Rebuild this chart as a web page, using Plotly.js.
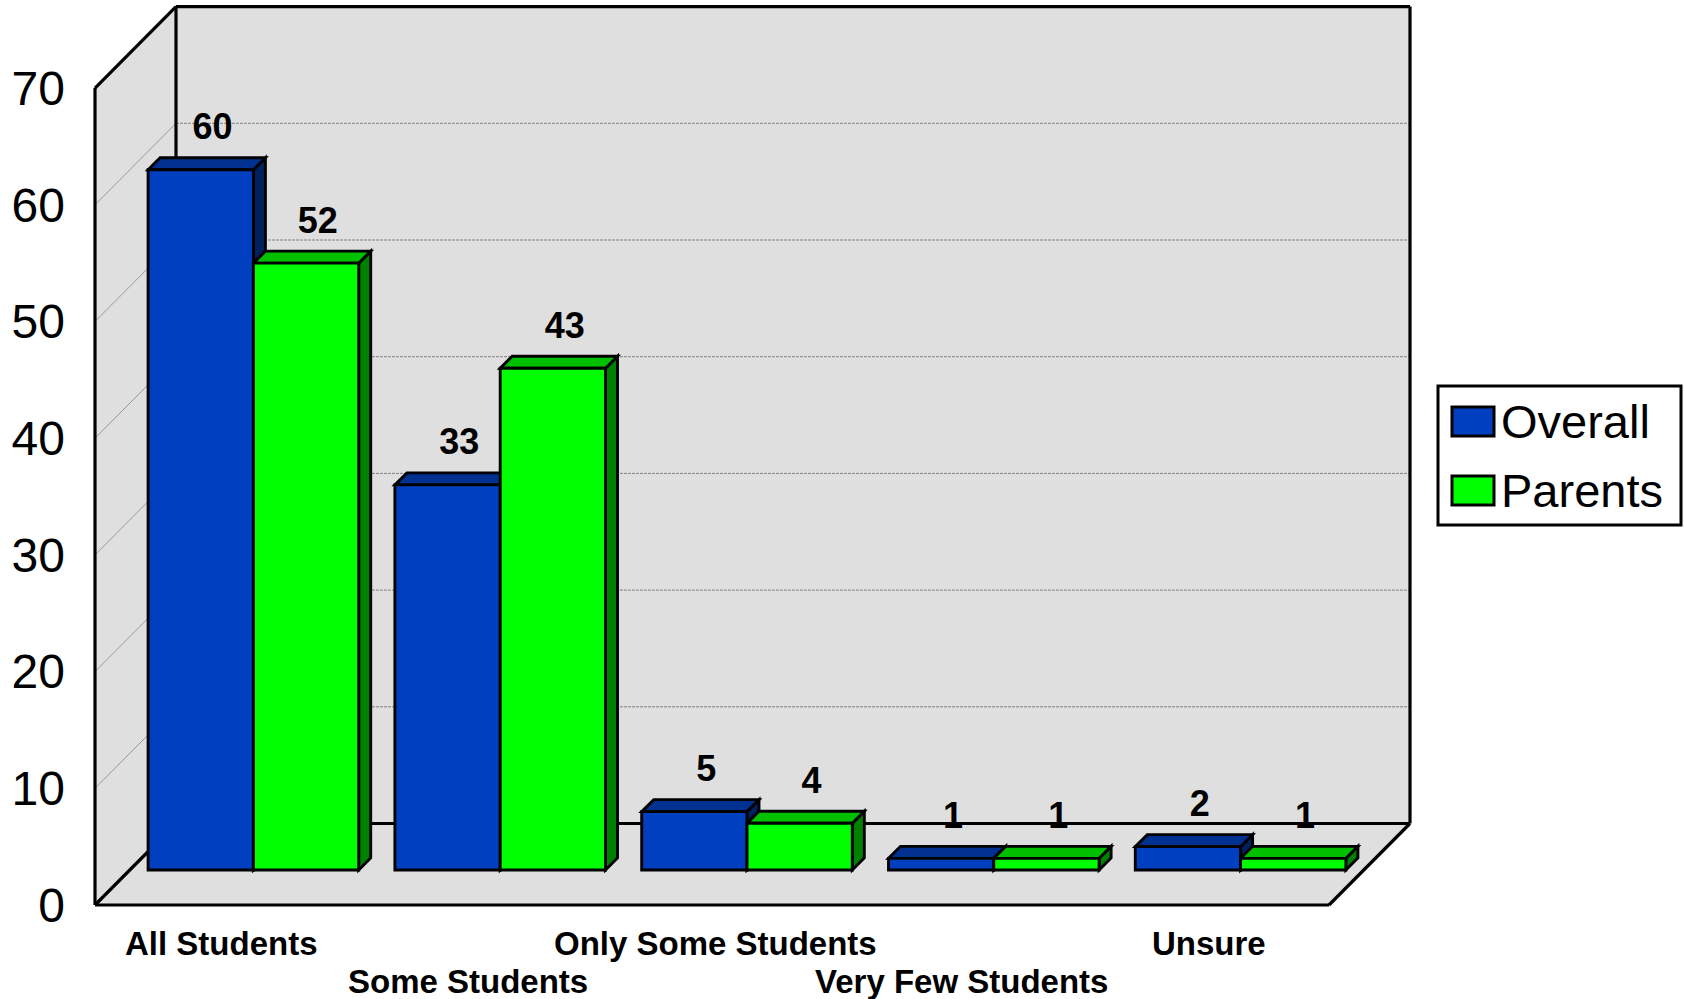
<!DOCTYPE html>
<html>
<head>
<meta charset="utf-8">
<script src="https://cdn.plot.ly/plotly-3.0.1.min.js"></script>
<style>html,body{margin:0;padding:0;background:#fff}</style>
</head>
<body>
<div id="chart" style="width:1684px;height:999px"></div>
<script>
// ---- data ----
const categories = ["All Students", "Some Students", "Only Some Students", "Very Few Students", "Unsure"];
const overallValues = [60, 33, 5, 1, 2];
const parentsValues = [52, 43, 4, 1, 1];
const seriesNames = ["Overall", "Parents"];
const yTicks = [0, 10, 20, 30, 40, 50, 60, 70];
const gridValues = [10, 20, 30, 40, 50, 60];

// ---- styling / projection constants ----
const FONT = '"Liberation Sans", Arial, sans-serif';
const W = 1684, H = 999;
const PX_X = 246.8, PX_Y = 11.67;      // pixels per category / per value unit
const OX = 95, OY = 905;               // pixel of the front-left floor corner
const mL = 85, mR = 263, mT = 0, mB = 84;
const xRange = [(mL - OX) / PX_X, (W - mR - OX) / PX_X];
const yRange = [(OY - (H - mB)) / PX_Y, (OY - mT) / PX_Y];
const fx = p => p / PX_X, fy = p => p / PX_Y;
const WALL_DX = fx(81), WALL_DY = fy(81.5), NCAT = categories.length;
const PLANE_DX = fx(35), PLANE_DY = fy(35);   // floor position of bar front faces
const BAR_W = fx(105.3), BAR_DX = fx(12), BAR_DY = fy(12);
const WALL = "#DFDFDF", INK = "#000000", LW = 2.9;
const colors = [
  {front: "#0040C0", top: "#003090", side: "#002060"},
  {front: "#00FF00", top: "#00C000", side: "#008000"}
];
const allSeries = [overallValues, parentsValues];

function poly(pts, fill, lw) {
  const path = "M" + pts.map(p => p[0] + "," + p[1]).join("L") + "Z";
  return {type: "path", xref: "x", yref: "y", layer: "below", path: path,
          fillcolor: fill, line: {color: INK, width: lw}};
}
function seg(x0, y0, x1, y1, color, width, dash) {
  return {type: "line", xref: "x", yref: "y", layer: "below", x0, y0, x1, y1,
          line: {color, width, dash: dash || "solid"}};
}
const barX = (s, i) => i + 0.5 + PLANE_DX + (s === 0 ? -BAR_W / 2 : BAR_W / 2);

const shapes = [];
// walls and floor
shapes.push(poly([[0,0],[WALL_DX,WALL_DY],[WALL_DX,70+WALL_DY],[0,70]], WALL, 0));
shapes.push(poly([[WALL_DX,WALL_DY],[NCAT+WALL_DX,WALL_DY],[NCAT+WALL_DX,70+WALL_DY],[WALL_DX,70+WALL_DY]], WALL, 0));
shapes.push(poly([[0,0],[NCAT,0],[NCAT+WALL_DX,WALL_DY],[WALL_DX,WALL_DY]], WALL, 0));
// gridlines
gridValues.forEach(v => {
  shapes.push(seg(0, v, WALL_DX, v + WALL_DY, "#9A9A9A", 1));
  shapes.push(seg(WALL_DX, v + WALL_DY, NCAT + WALL_DX, v + WALL_DY, "#808080", 1, "3px,1px"));
});
// frame
[[0,0,0,70],[0,70,WALL_DX,70+WALL_DY],[WALL_DX,70+WALL_DY,NCAT+WALL_DX,70+WALL_DY],
 [WALL_DX,WALL_DY,WALL_DX,70+WALL_DY],[NCAT+WALL_DX,WALL_DY,NCAT+WALL_DX,70+WALL_DY],
 [WALL_DX,WALL_DY,NCAT+WALL_DX,WALL_DY],[0,0,WALL_DX,WALL_DY],[NCAT,0,NCAT+WALL_DX,WALL_DY],
 [0,0,NCAT,0]].forEach(s => shapes.push(seg(s[0], s[1], s[2], s[3], INK, 3.2)));

// bar top and side faces (front faces are bar traces above these)
allSeries.forEach((vals, s) => {
  vals.forEach((v, i) => {
    const cx = barX(s, i), l = cx - BAR_W / 2, r = cx + BAR_W / 2;
    const b = PLANE_DY, t = PLANE_DY + v;
    shapes.push(poly([[r,b],[r+BAR_DX,b+BAR_DY],[r+BAR_DX,t+BAR_DY],[r,t]], colors[s].side, LW));
    shapes.push(poly([[l,t],[r,t],[r+BAR_DX,t+BAR_DY],[l+BAR_DX,t+BAR_DY]], colors[s].top, LW));
  });
});

// legend box (pixel layout converted to paper coordinates)
const px = p => (p - mL) / (W - mL - mR);
const py = p => 1 - (p - mT) / (H - mT - mB);
function paperRect(x0, y0, x1, y1, fill, lw) {
  return {type: "rect", xref: "paper", yref: "paper", layer: "above",
          x0: px(x0), x1: px(x1), y0: py(y0), y1: py(y1),
          fillcolor: fill, line: {color: INK, width: lw}};
}
shapes.push(paperRect(1438, 386, 1681, 525, "#FFFFFF", 3));
shapes.push(paperRect(1452, 407, 1494, 436, colors[0].front, 3));
shapes.push(paperRect(1452, 476, 1494, 505, colors[1].front, 3));

const annotations = [];
seriesNames.forEach((name, s) => annotations.push({
  xref: "paper", yref: "paper", x: px(1499), y: py(s === 0 ? 421 : 491),
  xanchor: "left", yanchor: "middle", showarrow: false, text: name,
  font: {family: FONT, size: 47, color: INK}
}));
categories.forEach((name, i) => annotations.push({
  xref: "x", yref: "paper", x: i + 0.5 + fx(3), y: py(i % 2 === 0 ? 944 : 982),
  xanchor: "center", yanchor: "middle", showarrow: false, text: name,
  font: {family: FONT, size: 33, color: INK, weight: 700}
}));

const traces = [];
allSeries.forEach((vals, s) => {
  traces.push({
    type: "bar", name: seriesNames[s], showlegend: false,
    x: vals.map((_, i) => barX(s, i)), y: vals, base: vals.map(() => PLANE_DY),
    width: BAR_W, customdata: categories,
    hovertemplate: "%{customdata}: %{y}<extra>" + seriesNames[s] + "</extra>",
    marker: {color: colors[s].front, line: {color: INK, width: LW}}
  });
});
allSeries.forEach((vals, s) => {
  traces.push({
    type: "scatter", mode: "text", showlegend: false, hoverinfo: "skip", cliponaxis: false,
    x: vals.map((_, i) => barX(s, i) + fx(11.8)),
    y: vals.map(v => v + PLANE_DY + fy(39.5)),
    text: vals.map(String), textposition: "middle center",
    textfont: {family: FONT, size: 36, color: INK, weight: 700}
  });
});

const layout = {
  width: W, height: H, autosize: false, showlegend: false,
  paper_bgcolor: "#FFFFFF", plot_bgcolor: "#FFFFFF",
  font: {family: FONT, color: INK},
  margin: {l: mL, r: mR, t: mT, b: mB, pad: 0},
  barmode: "overlay",
  xaxis: {type: "linear", range: xRange, showgrid: false, zeroline: false, showline: false,
          showticklabels: false, ticks: "", fixedrange: true},
  yaxis: {type: "linear", range: yRange, showgrid: false, zeroline: false, showline: false,
          tickmode: "array", tickvals: yTicks, ticktext: yTicks.map(String), ticks: "",
          ticklabelstandoff: 19, tickfont: {family: FONT, size: 48, color: INK}, fixedrange: true},
  shapes, annotations
};
Plotly.newPlot("chart", traces, layout, {displayModeBar: false, staticPlot: false});
</script>
</body>
</html>
